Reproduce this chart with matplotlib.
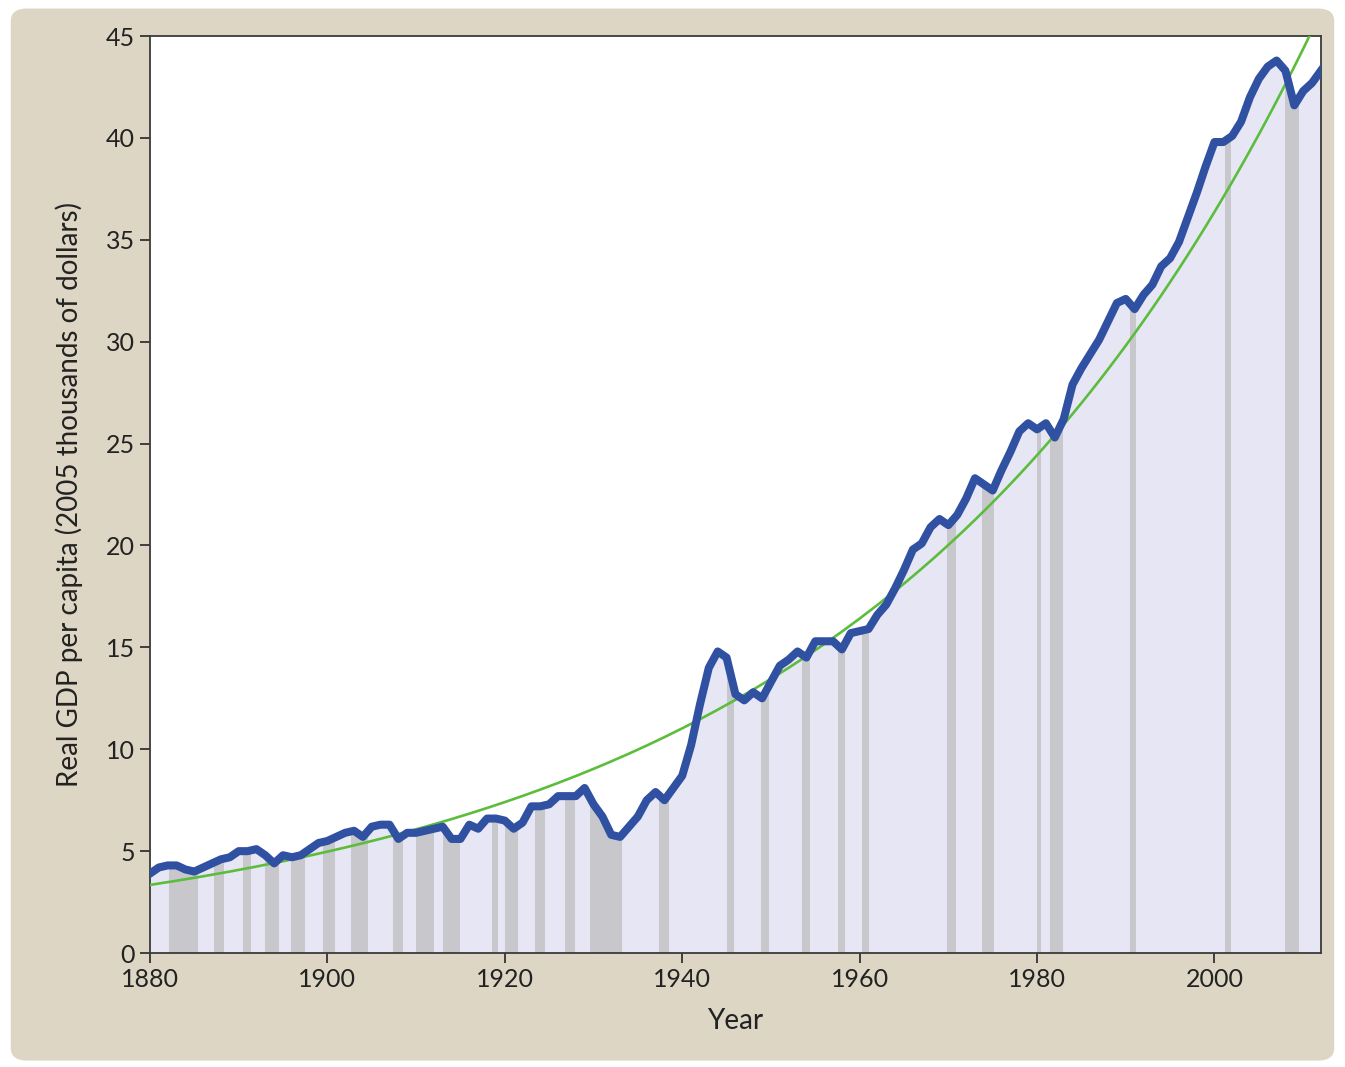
import numpy as np
import matplotlib.pyplot as plt
from matplotlib.patches import FancyBboxPatch

# real GDP per capita, thousands of 2005 dollars
years = list(range(1880, 2013))
gdp = [3.9, 4.2, 4.3, 4.3, 4.1, 4.0, 4.2, 4.4, 4.6, 4.7,
       5.0, 5.0, 5.1, 4.8, 4.4, 4.8, 4.7, 4.8, 5.1, 5.4,
       5.5, 5.7, 5.9, 6.0, 5.7, 6.2, 6.3, 6.3, 5.6, 5.9,
       5.9, 6.0, 6.1, 6.2, 5.6, 5.6, 6.3, 6.1, 6.6, 6.6,
       6.5, 6.1, 6.4, 7.2, 7.2, 7.3, 7.7, 7.7, 7.7, 8.1,
       7.3, 6.7, 5.8, 5.7, 6.2, 6.7, 7.5, 7.9, 7.5, 8.1,
       8.7, 10.2, 12.2, 14.0, 14.8, 14.5, 12.7, 12.4, 12.8, 12.5,
       13.3, 14.1, 14.4, 14.8, 14.5, 15.3, 15.3, 15.3, 14.9, 15.7,
       15.8, 15.9, 16.6, 17.1, 17.9, 18.8, 19.8, 20.1, 20.9, 21.3,
       21.0, 21.5, 22.3, 23.3, 23.0, 22.7, 23.7, 24.6, 25.6, 26.0,
       25.7, 26.0, 25.3, 26.2, 27.9, 28.7, 29.4, 30.1, 31.0, 31.9,
       32.1, 31.6, 32.3, 32.8, 33.7, 34.1, 34.9, 36.1, 37.3, 38.6,
       39.8, 39.8, 40.1, 40.8, 42.0, 42.9, 43.5, 43.8, 43.3, 41.6,
       42.3, 42.7, 43.3]

# recessions (start, end) in decimal years
rec_start = [1882.2, 1887.2, 1890.5, 1893.0, 1895.9, 1899.5, 1902.7, 1907.4,
             1910.0, 1913.0, 1918.6, 1920.0, 1923.4, 1926.8, 1929.6, 1937.4,
             1945.1, 1948.9, 1953.5, 1957.6, 1960.3, 1969.9, 1973.8, 1980.0,
             1981.5, 1990.5, 2001.2, 2007.9]
rec_end = [1885.4, 1888.3, 1891.4, 1894.5, 1897.5, 1900.9, 1904.6, 1908.5,
           1912.0, 1914.9, 1919.2, 1921.5, 1924.5, 1927.9, 1933.2, 1938.5,
           1945.8, 1949.8, 1954.4, 1958.3, 1961.1, 1970.9, 1975.2, 1980.5,
           1982.9, 1991.2, 2001.9, 2009.5]

xticks = [1880, 1900, 1920, 1940, 1960, 1980, 2000]
yticks = [0, 5, 10, 15, 20, 25, 30, 35, 40, 45]

plt.rcParams['font.family'] = ['Lato', 'DejaVu Sans']

fig = plt.figure(figsize=(13.45, 10.67), dpi=100)
fig.patch.set_facecolor('white')
panel = FancyBboxPatch((0.008, 0.006), 0.984, 0.986,
                       boxstyle="round,pad=0,rounding_size=0.012",
                       transform=fig.transFigure, fc='#ddd6c5', ec='none', zorder=-5)
fig.patches.append(panel)

ax = fig.add_axes([0.1115, 0.1068, 0.8706, 0.8594])
ax.set_facecolor('white')

area = ax.fill_between(years, gdp, 0, color='#e6e6f4', lw=0, zorder=1)
clip = area.get_paths()[0]
for a, b in zip(rec_start, rec_end):
    span = ax.axvspan(a, b, color='#c8c8cc', lw=0, zorder=2)
    span.set_clip_path(clip, ax.transData)

# exponential trend fitted to the data
coef = np.polyfit(years, np.log(gdp), 1)
trend = np.exp(np.polyval(coef, years))
ax.plot(years, trend, color='#5cbd3c', lw=1.9, zorder=3)

ax.plot(years, gdp, color='#3050a2', lw=5.8, solid_joinstyle='round', zorder=4)

ax.set_xlim(1880, 2012)
ax.set_ylim(0, 45)
ax.set_xticks(xticks)
ax.set_yticks(yticks)
ax.tick_params(axis='both', direction='out', length=7, width=1.3, color='#333333',
               labelsize=18, labelcolor='#222222', pad=4)
for s in ax.spines.values():
    s.set_color('#3a3a3a')
    s.set_linewidth(1.3)

ax.set_xlabel('Year', fontsize=20, color='#222222', labelpad=12)
ax.set_ylabel('Real GDP per capita (2005 thousands of dollars)', fontsize=20,
              color='#222222', labelpad=16)

fig.savefig('out.png', dpi=100, facecolor=fig.get_facecolor())
